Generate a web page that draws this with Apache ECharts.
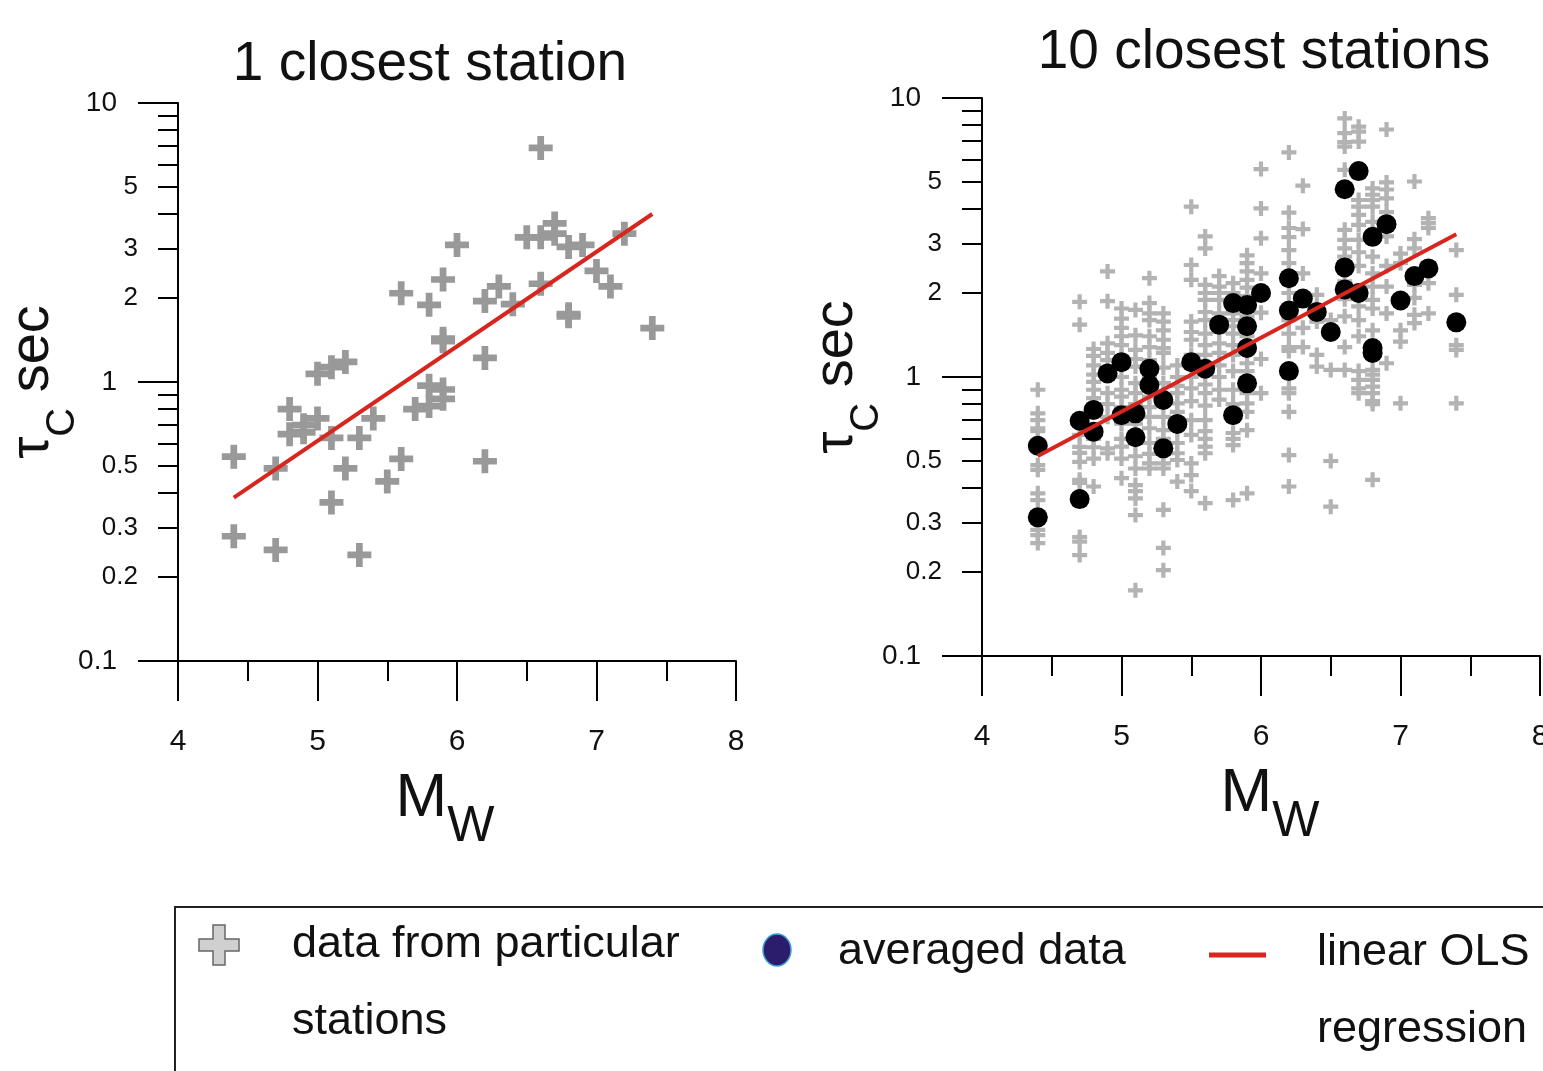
<!DOCTYPE html>
<html>
<head>
<meta charset="utf-8">
<script src="https://cdn.jsdelivr.net/npm/echarts@6/dist/echarts.min.js"></script>
<style>
  html, body { margin: 0; padding: 0; background: #fff; }
  #chart { width: 1543px; height: 1071px; }
</style>
</head>
<body>
<div id="chart"></div>
<script>
const FONT = '"Liberation Sans", Arial, sans-serif'
const PLUS = 'path://M36,0H64V36H100V64H64V100H36V64H0V36H36Z'

// left panel: 1 closest station
const closestMw = [6.6, 6.0, 6.5, 6.6, 6.7, 6.7, 6.8, 6.9, 7.2, 7.0, 7.1, 6.6, 6.8, 6.8, 7.4, 6.3, 6.2, 6.4, 6.2, 6.2,
  5.9, 5.8, 5.6, 5.9, 5.9, 5.8, 5.9, 5.9, 5.8, 5.7, 5.4, 5.3, 5.6, 5.5, 5.3, 5.2, 5.1, 5.1, 5.0, 5.1,
  5.2, 5.0, 4.9, 4.9, 4.8, 4.8, 4.4, 4.7, 4.4, 4.7]
const closestTau = [6.9, 3.1, 3.3, 3.3, 3.7, 3.4, 3.05, 3.1, 3.4, 2.5, 2.2, 2.25, 1.75, 1.72, 1.56, 2.2, 1.95, 1.9, 1.22, 0.52,
  2.33, 1.89, 2.08, 1.43, 1.40, 0.97, 0.94, 0.87, 0.82, 0.80, 0.74, 0.63, 0.53, 0.44, 0.24, 0.49, 0.37, 0.63, 1.07, 1.13,
  1.18, 0.74, 0.70, 0.66, 0.80, 0.65, 0.54, 0.49, 0.28, 0.25]

// right panel: 10 closest stations, one list of tau per magnitude column
const stationMw = [4.4, 4.7, 4.8, 4.9, 5.0, 5.1, 5.2, 5.3, 5.4, 5.5, 5.6, 5.7, 5.8, 5.9, 6.0,
  6.2, 6.3, 6.4, 6.5, 6.6, 6.7, 6.8, 6.9, 7.0, 7.1, 7.2, 7.4]
const stationTau = [
  [0.90, 0.741, 0.70, 0.655, 0.64, 0.483, 0.465, 0.383, 0.362, 0.283, 0.271, 0.254],
  [1.86, 1.54, 0.70, 0.62, 0.562, 0.535, 0.496, 0.428, 0.417, 0.267, 0.257, 0.230],
  [1.26, 1.19, 1.10, 1.02, 0.96, 0.90, 0.84, 0.60, 0.56, 0.51, 0.405],
  [2.39, 1.87, 1.32, 1.22, 1.15, 0.875, 0.80, 0.72, 0.555, 0.533],
  [1.76, 1.62, 1.50, 1.40, 1.30, 1.18, 1.0, 0.90, 0.85, 0.78, 0.68, 0.60, 0.563, 0.51, 0.434],
  [1.74, 1.41, 1.25, 1.16, 1.09, 0.95, 0.875, 0.80, 0.68, 0.58, 0.52, 0.47, 0.41, 0.39, 0.367, 0.32, 0.172],
  [2.26, 1.84, 1.69, 1.60, 1.40, 1.28, 1.15, 1.0, 0.85, 0.78, 0.72, 0.655, 0.58, 0.53, 0.49, 0.47],
  [1.69, 1.58, 1.47, 1.36, 1.27, 1.22, 1.08, 0.95, 0.86, 0.72, 0.645, 0.60, 0.53, 0.49, 0.47, 0.334, 0.244, 0.203],
  [1.1, 1.0, 0.93, 0.875, 0.805, 0.75, 0.65, 0.58, 0.533, 0.504, 0.422],
  [4.08, 2.52, 2.23, 1.58, 1.45, 1.36, 1.2, 1.0, 0.91, 0.82, 0.7, 0.62, 0.49, 0.445, 0.39],
  [3.19, 2.89, 2.14, 2.0, 1.89, 1.71, 1.6, 1.43, 1.3, 1.2, 0.94, 0.875, 0.79, 0.70, 0.64, 0.60, 0.563, 0.533, 0.353],
  [2.30, 2.11, 2.0, 1.89, 1.69, 1.45, 1.32, 1.22, 1.1, 1.0, 0.9, 0.83],
  [2.17, 2.0, 1.69, 1.6, 1.52, 1.43, 1.3, 1.2, 1.05, 0.90, 0.8, 0.63, 0.60, 0.57, 0.362],
  [2.73, 2.56, 2.39, 2.23, 2.09, 1.95, 1.65, 1.4, 1.12, 1.05, 0.875, 0.805, 0.75, 0.645, 0.383],
  [5.56, 4.02, 3.14, 2.35, 1.7, 1.16, 0.875],
  [6.38, 3.88, 3.42, 3.17, 2.85, 2.56, 2.0, 1.6, 1.43, 1.28, 1.24, 0.91, 0.875, 0.75, 0.525, 0.405],
  [4.85, 3.39, 2.35, 1.9, 1.5, 1.28],
  [1.97, 1.58, 1.2, 1.09],
  [1.60, 1.47, 1.06, 0.50, 0.343],
  [8.45, 7.48, 6.95, 6.70, 5.53, 3.37, 3.10, 2.89, 2.70, 2.2, 1.9, 1.65, 1.28, 1.06],
  [7.89, 7.58, 6.98, 4.31, 4.08, 3.81, 3.51, 3.10, 2.8, 2.5, 1.79, 1.60, 1.4, 1.05, 0.976, 0.91, 0.875],
  [4.74, 4.5, 4.31, 4.08, 3.6, 2.7, 2.35, 2.11, 1.89, 1.76, 1.47, 1.06, 1.02, 0.976, 0.924, 0.875, 0.82, 0.80, 0.428],
  [7.71, 4.98, 4.7, 4.37, 3.9, 3.19, 2.5, 2.11, 1.69, 1.12],
  [2.77, 2.56, 1.47, 1.34, 0.805],
  [5.02, 3.12, 2.89, 2.14, 1.92, 1.67, 1.56],
  [3.71, 3.56, 3.42, 2.17, 1.69],
  [2.85, 1.97, 1.30, 1.25, 0.805]
]

const avgMw = [4.4, 4.4, 4.7, 4.7, 4.8, 4.8, 4.9, 5.0, 5.0, 5.1, 5.1, 5.2, 5.2, 5.3, 5.3, 5.4, 5.5, 5.6, 5.7, 5.8,
  5.8, 5.9, 5.9, 5.9, 5.9, 6.0, 6.2, 6.2, 6.2, 6.3, 6.4, 6.5, 6.6, 6.7, 6.6, 6.6, 6.7, 6.8, 6.9, 6.8,
  6.8, 7.0, 7.1, 7.2, 7.4]
const avgTau = [0.567, 0.314, 0.365, 0.697, 0.762, 0.637, 1.03, 1.13, 0.73, 0.741, 0.608, 1.07, 0.936, 0.827, 0.555, 0.679, 1.13, 1.07, 1.54, 1.84,
  0.73, 1.81, 1.52, 1.27, 0.949, 2.0, 2.26, 1.73, 1.05, 1.91, 1.71, 1.45, 4.71, 5.47, 2.47, 2.06, 2.0, 3.18, 3.53, 1.27,
  1.22, 1.88, 2.30, 2.45, 1.57]

// OLS lines (end points)
const fitMw = [4.4, 7.4]
const closestFitTau = [0.385, 4.0]
const stationFitTau = [0.521, 3.25]

const yMajorTicks = [0.1, 1, 10]
const yMinorTicks = [0.2, 0.3, 0.4, 0.5, 0.6, 0.7, 0.8, 0.9, 2, 3, 4, 5, 6, 7, 8, 9]
const yMinorLabels = [0.2, 0.3, 0.5, 2, 3, 5]

const zip = (xs, ys) => xs.map((x, i) => [x, ys[i]])
const stationPoints = stationMw.flatMap((m, i) => stationTau[i].map(t => [m, t]))
const fmt = v => String(+(+v).toPrecision(3))

const black = '#000'
const ink = '#111'
const red = '#d7261e'

function xAxis(grid, namePad) {
  return {
    type: 'value', gridIndex: grid, min: 4, max: 8, interval: 1,
    axisLine: { onZero: false, lineStyle: { color: black, width: 2 } },
    axisTick: { length: 40, lineStyle: { color: black, width: 2 } },
    minorTick: { show: true, splitNumber: 2, length: 20, lineStyle: { color: black, width: 2 } },
    splitLine: { show: false },
    axisLabel: { margin: 66, fontSize: 30, color: ink, fontFamily: FONT, showMaxLabel: true, showMinLabel: true },
    name: '{m|M}{w|W}',
    nameLocation: 'middle',
    nameGap: 107,
    nameMoveOverlap: false,
    nameTextStyle: {
      fontFamily: FONT, color: ink, padding: namePad,
      rich: {
        m: { fontSize: 62, fontFamily: FONT, color: ink, lineHeight: 70, verticalAlign: 'top' },
        w: { fontSize: 50, fontFamily: FONT, color: ink, lineHeight: 84, verticalAlign: 'bottom' }
      }
    }
  }
}

function yAxes(grid) {
  const base = {
    type: 'log', logBase: 10, min: 0.1, max: 10, gridIndex: grid, position: 'left',
    splitLine: { show: false }, minorTick: { show: false }
  }
  return [
    {
      ...base,
      axisLine: { show: true, lineStyle: { color: black, width: 2 } },
      axisTick: { show: true, length: 40, customValues: yMajorTicks, lineStyle: { color: black, width: 2 } },
      axisLabel: { customValues: yMajorTicks, margin: 61, fontSize: 28, color: ink, fontFamily: FONT, formatter: fmt },
      name: '{a|τ}{b|C}{c| sec}',
      nameLocation: 'middle',
      nameRotate: 90,
      nameGap: 95,
      nameMoveOverlap: false,
      nameTextStyle: {
        fontFamily: FONT, color: ink,
        rich: {
          a: { fontSize: 56, fontFamily: FONT, color: ink, lineHeight: 64, verticalAlign: 'top' },
          b: { fontSize: 40, fontFamily: FONT, color: ink, lineHeight: 78, verticalAlign: 'bottom' },
          c: { fontSize: 56, fontFamily: FONT, color: ink, lineHeight: 64, verticalAlign: 'top' }
        }
      }
    },
    {
      ...base,
      axisLine: { show: false },
      axisTick: { show: true, length: 20, customValues: yMinorTicks, lineStyle: { color: black, width: 2 } },
      axisLabel: { customValues: yMinorLabels, margin: 40, fontSize: 26, color: ink, fontFamily: FONT, formatter: fmt }
    }
  ]
}

const chart = echarts.init(document.getElementById('chart'), null, { renderer: 'canvas' })

chart.setOption({
  animation: false,
  backgroundColor: '#fff',
  grid: [
    { left: 178, top: 103, width: 558, height: 558, outerBoundsMode: 'none', containLabel: false },
    { left: 982, top: 98, width: 558, height: 558, outerBoundsMode: 'none', containLabel: false }
  ],
  xAxis: [xAxis(0, [0, 24, 0, 0]), xAxis(1, [0, 0, 0, 18])],
  yAxis: [...yAxes(0), ...yAxes(1)],
  series: [
    {
      type: 'scatter', xAxisIndex: 0, yAxisIndex: 0, z: 2,
      symbol: PLUS, symbolSize: 24,
      itemStyle: { color: '#999999', opacity: 1 },
      data: zip(closestMw, closestTau)
    },
    {
      type: 'line', xAxisIndex: 0, yAxisIndex: 0, z: 4,
      showSymbol: false, lineStyle: { color: red, width: 4 },
      data: zip(fitMw, closestFitTau)
    },
    {
      type: 'scatter', xAxisIndex: 1, yAxisIndex: 2, z: 2,
      symbol: PLUS, symbolSize: 15,
      itemStyle: { color: '#b3b3b3', opacity: 1 },
      data: stationPoints
    },
    {
      type: 'scatter', xAxisIndex: 1, yAxisIndex: 2, z: 3,
      symbol: 'circle', symbolSize: 20,
      itemStyle: { color: black, opacity: 1 },
      data: zip(avgMw, avgTau)
    },
    {
      type: 'line', xAxisIndex: 1, yAxisIndex: 2, z: 4,
      showSymbol: false, lineStyle: { color: red, width: 4 },
      data: zip(fitMw, stationFitTau)
    }
  ],
  graphic: [
    { type: 'text', x: 430, y: 65, style: { text: '1 closest station', fontSize: 55, fontFamily: FONT, fill: ink, align: 'center', verticalAlign: 'middle' } },
    { type: 'text', x: 1264, y: 53, style: { text: '10 closest stations', fontSize: 55, fontFamily: FONT, fill: ink, align: 'center', verticalAlign: 'middle' } },
    // legend
    { type: 'rect', shape: { x: 175, y: 907, width: 1400, height: 200 }, style: { fill: 'none', stroke: '#222', lineWidth: 2 } },
    {
      type: 'polygon',
      shape: { points: [[213, 925], [225, 925], [225, 939], [239, 939], [239, 951], [225, 951], [225, 965], [213, 965], [213, 951], [199, 951], [199, 939], [213, 939]] },
      style: { fill: '#d0d0d0', stroke: '#666', lineWidth: 1.5 }
    },
    { type: 'text', x: 292, y: 945, style: { text: 'data from particular', fontSize: 45, fontFamily: FONT, fill: ink, verticalAlign: 'middle' } },
    { type: 'text', x: 292, y: 1022, style: { text: 'stations', fontSize: 45, fontFamily: FONT, fill: ink, verticalAlign: 'middle' } },
    { type: 'ellipse', shape: { cx: 777, cy: 950, rx: 14, ry: 16 }, style: { fill: '#2b1d6b', stroke: '#3fa0d8', lineWidth: 1.5 } },
    { type: 'text', x: 838, y: 952, style: { text: 'averaged data', fontSize: 45, fontFamily: FONT, fill: ink, verticalAlign: 'middle' } },
    { type: 'line', shape: { x1: 1209, y1: 955, x2: 1266, y2: 955 }, style: { stroke: red, lineWidth: 5 } },
    { type: 'text', x: 1317, y: 953, style: { text: 'linear OLS', fontSize: 45, fontFamily: FONT, fill: ink, verticalAlign: 'middle' } },
    { type: 'text', x: 1317, y: 1030, style: { text: 'regression', fontSize: 45, fontFamily: FONT, fill: ink, verticalAlign: 'middle' } }
  ]
})
</script>
</body>
</html>
